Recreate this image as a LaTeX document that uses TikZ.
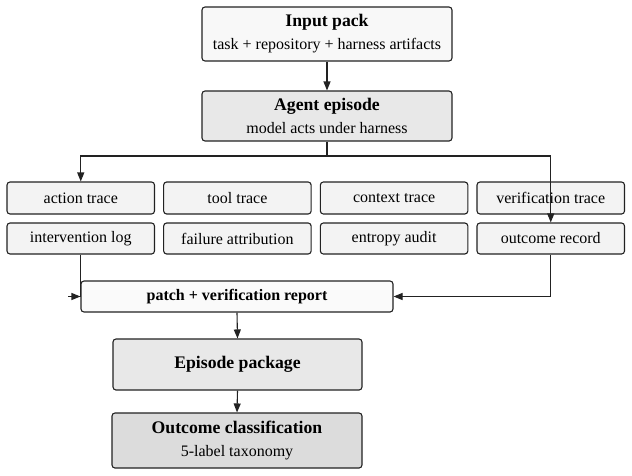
\documentclass[tikz,border=0pt]{standalone}
\usepackage{fontspec}
\setmainfont{Liberation Serif}
\usetikzlibrary{arrows.meta}
\definecolor{cInput}{HTML}{F8F8F8}
\definecolor{cAgent}{HTML}{E8E8E8}
\definecolor{cArt}{HTML}{F3F3F3}
\definecolor{cPatch}{HTML}{FAFAFA}
\definecolor{cEp}{HTML}{E8E8E8}
\definecolor{cOut}{HTML}{DCDCDC}
\definecolor{cLine}{HTML}{222222}
\tikzset{
  boxbase/.style={draw=cLine, line width=1.1pt, rounded corners=3pt, inner sep=0pt, align=center},
  bigbox/.style={boxbase, minimum width=250pt, font=\fontsize{16}{23}\selectfont},
  artbox/.style={boxbase, fill=cArt, minimum width=147.5pt, minimum height=32pt, font=\fontsize{16}{19}\selectfont},
  arr/.style={draw=cLine, line width=1.1pt, -{Triangle[length=9pt,width=7pt]}},
  plainline/.style={draw=cLine, line width=1.1pt},
}
\newcommand{\hd}[1]{{\fontsize{17.7}{23}\selectfont\bfseries #1}}
\begin{document}
\begin{tikzpicture}[x=1pt,y=-1pt]
\useasboundingbox (0,0) rectangle (632,475);
% top nodes
\node[bigbox, fill=cInput, minimum height=54pt] (inp) at (327,34) {\hd{Input pack}\\task + repository + harness artifacts};
\node[bigbox, fill=cAgent, minimum height=50pt] (agent) at (327,116) {\hd{Agent episode}\\model acts under harness};
% artifacts
\node[artbox] (a1) at (80.75,198) {action trace};
\node[artbox] (a2) at (237.4,198) {tool trace};
\node[artbox] (a3) at (394.1,198) {context trace};
\node[artbox] (a4) at (550.75,198) {verification trace};
\node[artbox, minimum height=31pt] (b1) at (80.75,238.5) {intervention log};
\node[artbox, minimum height=31pt] (b2) at (237.4,238.5) {failure attribution};
\node[artbox, minimum height=31pt] (b3) at (394.1,238.5) {entropy audit};
\node[artbox, minimum height=31pt] (b4) at (550.75,238.5) {outcome record};
% lower nodes
\node[boxbase, fill=cPatch, minimum width=312pt, minimum height=31pt, font=\fontsize{16}{19}\selectfont\bfseries] (patch) at (237,296.5) {patch + verification report};
\node[bigbox, fill=cEp, minimum width=249pt, minimum height=51pt] (ep) at (237.5,364.5) {\hd{Episode package}};
\node[bigbox, fill=cOut, minimum height=55pt] (out) at (237,440.5) {\hd{Outcome classification}\\5-label taxonomy};
% connectors
\coordinate (split) at (327,156);
\coordinate (pw) at ([xshift=-12pt]patch.west);
\draw[arr] (inp.south) -- (agent.north);
\draw[plainline] (agent.south) -- (split);
\draw[arr] (split) -| (a1.north);
\draw[arr] (split) -| (b4.north);
\draw[plainline] (b1.south) |- (patch.west);
\draw[arr] (pw) -- (patch.west);
\draw[arr] (b4.south) |- (patch.east);
\draw[arr] (patch.south) -- (ep.north);
\draw[arr] (ep.south) -- (out.north);
\end{tikzpicture}
\end{document}
